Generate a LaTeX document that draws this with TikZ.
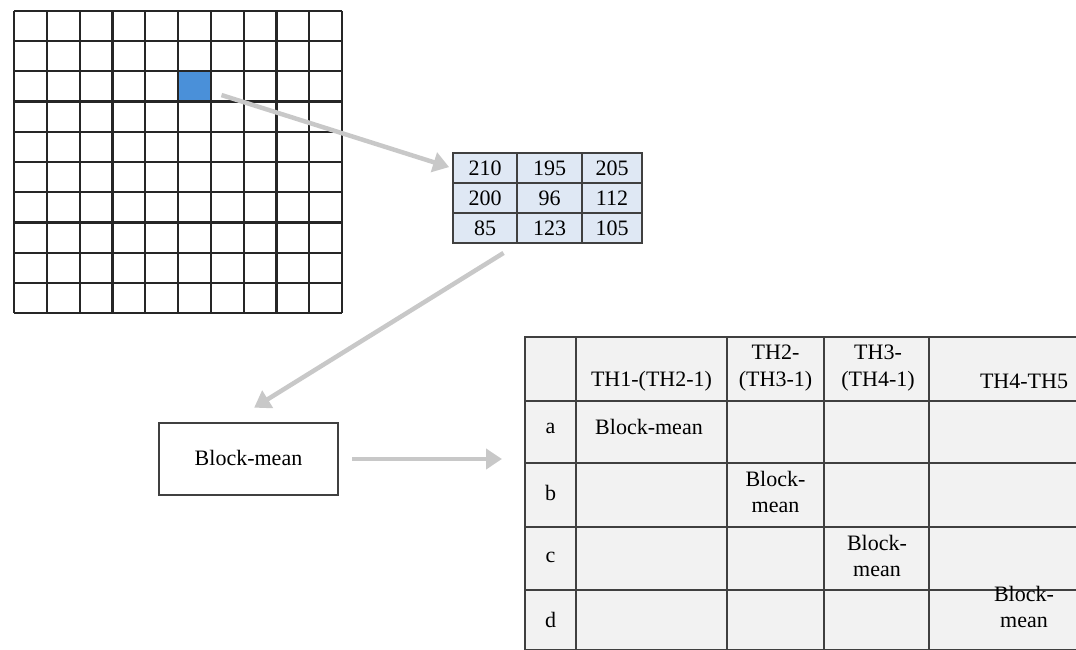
\documentclass[tikz,border=0pt]{standalone}
\usepackage{fontspec}
\setmainfont{Liberation Serif}
\usetikzlibrary{arrows.meta}

\definecolor{pixblue}{HTML}{4A90D9}
\definecolor{arrowgray}{HTML}{C8C8C8}
\definecolor{valfill}{HTML}{DFE8F4}
\definecolor{tabfill}{HTML}{F2F2F2}
\definecolor{linegray}{HTML}{404040}

\tikzset{
  gridline/.style={draw=black!85, line width=2.2pt},
  flow/.style={draw=arrowgray, line width=4.5pt, -{Triangle[length=16pt,width=20pt]}},
  valcell/.style={draw=linegray, fill=valfill, line width=2pt, minimum height=30pt, inner sep=0pt},
  tabcell/.style={draw=linegray, fill=tabfill, line width=2pt, inner sep=0pt},
  lbl/.style={inner sep=0pt, align=center}
}

\begin{document}
\begin{tikzpicture}[x=1pt, y=-1pt, every node/.style={font=\fontsize{22}{26.5}\selectfont}]
  \useasboundingbox (0,0) rectangle (1076,650);
  \clip (0,0) rectangle (1076,650);

  % image grid with the selected pixel
  \node[fill=pixblue, minimum width=32.8pt, minimum height=30.2pt, inner sep=0pt] (pix) at (194.4,86.5) {};
  \foreach \i in {0,...,10}
    \draw[gridline] ({14+32.8*\i},11) -- ({14+32.8*\i},313);
  \foreach \i in {0,...,10}
    \draw[gridline] (14,{11+30.2*\i}) -- (342,{11+30.2*\i});

  % 3x3 neighbourhood values
  \foreach \y/\p/\q/\s [count=\i] in {168/210/195/205, 198/200/96/112, 228/85/123/105} {
    \node[valcell, minimum width=64pt] (v\i1) at (485,\y) {\p};
    \node[valcell, minimum width=65pt] (v\i2) at (549.5,\y) {\q};
    \node[valcell, minimum width=60pt] (v\i3) at (612,\y) {\s};
  }

  \node[draw=linegray, line width=2.2pt, fill=white, minimum width=179pt, minimum height=72pt, text depth=3pt] (box) at (248.5,459) {Block-mean};

  % threshold table
  \foreach \y/\h [count=\i from 0] in {369/64, 432/62, 495/64, 558.5/63, 620/60}
    \foreach \x/\w [count=\j from 0] in {550.5/51, 651.5/151, 775.5/97, 876.5/105, 1024/190}
      \node[tabcell, minimum width=\w pt, minimum height=\h pt] (t\i\j) at (\x,\y) {};

  \node[lbl] (h1) at (651.5,381) {TH1-(TH2-1)};
  \node[lbl] (h2) at (775.5,368) {TH2-\\(TH3-1)};
  \node[lbl] (h3) at (878,368) {TH3-\\(TH4-1)};
  \node[lbl] (h4) at (1024,381) {TH4-TH5};

  \node[lbl] (ra) at (550.5,428) {a};
  \node[lbl] (rb) at (550.5,493) {b};
  \node[lbl] (rc) at (550.5,557) {c};
  \node[lbl] (rd) at (550.5,620) {d};

  \node[lbl] (ma) at (649,427) {Block-mean};
  \node[lbl] (mb) at (775.5,492) {Block-\\mean};
  \node[lbl] (mc) at (877,556) {Block-\\mean};
  \node[lbl] (md) at (1024,607) {Block-\\mean};

  % arrows
  \draw[flow, shorten <=11pt, shorten >=3pt] (pix) -- (v11.west);
  \draw[flow, shorten <=17pt, shorten >=27pt] (v31.south east) -- (box.115);
  \draw[flow, shorten <=13pt, shorten >=22pt] (box.east) -- (box.east -| t10.west);
\end{tikzpicture}
\end{document}
